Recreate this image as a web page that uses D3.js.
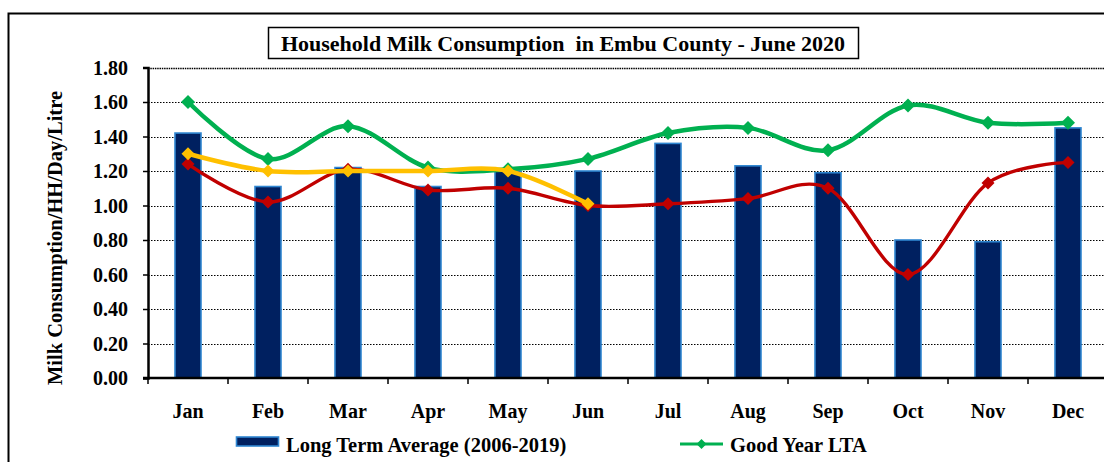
<!DOCTYPE html>
<html>
<head>
<meta charset="utf-8">
<script src="https://cdn.jsdelivr.net/npm/d3@7"></script>
<style>
  html, body { margin: 0; padding: 0; background: #fff; }
  svg { display: block; }
  text { font-family: "Liberation Serif", "Times New Roman", serif; font-weight: bold; fill: #000; }
</style>
</head>
<body>
<svg id="chart" width="1104" height="462"></svg>
<script>
// Monthly household milk consumption, Embu County (litres per household per day)
const months = ["Jan","Feb","Mar","Apr","May","Jun","Jul","Aug","Sep","Oct","Nov","Dec"];
const longTermAvg = [1.42, 1.11, 1.22, 1.11, 1.20, 1.20, 1.36, 1.23, 1.19, 0.80, 0.79, 1.45];
const goodYearLTA = [1.60, 1.27, 1.46, 1.22, 1.21, 1.27, 1.42, 1.45, 1.32, 1.58, 1.48, 1.48];
const badYearLTA  = [1.24, 1.02, 1.21, 1.09, 1.10, 1.00, 1.01, 1.04, 1.10, 0.60, 1.13, 1.25];
const year2020    = [1.30, 1.20, 1.20, 1.20, 1.20, 1.01];
const yTicks = [0, 0.2, 0.4, 0.6, 0.8, 1.0, 1.2, 1.4, 1.6, 1.8];
const titleText = "Household Milk Consumption  in Embu County - June 2020";
const yLabel = "Milk Consumption/HH/Day/Litre";
const legendLabels = ["Long Term Average (2006-2019)", "Good Year LTA"];

const svg = d3.select("#chart");
const plot = { left: 148, right: 1108, top: 67.5, bottom: 378 };

const x = d3.scaleBand().domain(months).range([plot.left, plot.right]).padding(0);
const y = d3.scaleLinear().domain([0, 1.8]).range([plot.bottom, plot.top]);

// Outer chart frame
svg.append("rect")
  .attr("x", 8.5).attr("y", 13.5).attr("width", 1110).attr("height", 470)
  .attr("fill", "#fff").attr("stroke", "#000").attr("stroke-width", 2);

// Title box
const titleG = svg.append("g");
titleG.append("rect")
  .attr("x", 268.5).attr("y", 27.5).attr("width", 590).attr("height", 31)
  .attr("fill", "#fff").attr("stroke", "#000").attr("stroke-width", 1.5);
titleG.append("text")
  .attr("x", 563).attr("y", 51)
  .attr("text-anchor", "middle")
  .attr("font-size", 22)
  .style("white-space", "pre")
  .text(titleText);

// Dotted horizontal gridlines
svg.append("g")
  .selectAll("line")
  .data(yTicks.filter(d => d > 0))
  .join("line")
  .attr("x1", plot.left).attr("x2", plot.right)
  .attr("y1", d => Math.round(y(d)) + 0.5).attr("y2", d => Math.round(y(d)) + 0.5)
  .attr("stroke", "#000")
  .attr("stroke-width", d => d === 1.8 ? 1.6 : 1.2)
  .attr("stroke-dasharray", d => d === 1.8 ? "1.5,0.8" : "1.5,1.5");

// Y axis
const yAxis = d3.axisLeft(y)
  .tickValues(yTicks)
  .tickFormat(d3.format(".2f"))
  .tickSize(5)
  .tickPadding(15);
const yG = svg.append("g")
  .attr("transform", `translate(${plot.left},0)`)
  .call(yAxis)
  .attr("font-family", null)
  .attr("font-size", null);
yG.select(".domain").attr("stroke", "#000").attr("stroke-width", 2.5);
yG.selectAll(".tick line").attr("stroke", "#000").attr("stroke-width", 1.5);
yG.selectAll(".tick text")
  .attr("font-size", 20)
  .attr("dy", "0.34em")
  .attr("fill", "#000");

// Y axis title
svg.append("text")
  .attr("transform", "translate(62,238) rotate(-90)")
  .attr("text-anchor", "middle")
  .attr("font-size", 20.5)
  .text(yLabel);

// Bars: long term average
svg.append("g")
  .selectAll("rect")
  .data(months.map((m, i) => ({ m, v: longTermAvg[i] })))
  .join("rect")
  .attr("x", d => x(d.m) + x.bandwidth() / 2 - 13)
  .attr("width", 26)
  .attr("y", d => y(d.v))
  .attr("height", d => y(0) - y(d.v))
  .attr("fill", "#002060")
  .attr("stroke", "#2f86d1")
  .attr("stroke-width", 1.6);

// X axis line with category boundary ticks
const xG = svg.append("g");
xG.append("line")
  .attr("x1", plot.left - 5).attr("x2", plot.right)
  .attr("y1", plot.bottom).attr("y2", plot.bottom)
  .attr("stroke", "#000").attr("stroke-width", 2.5);
xG.selectAll("line.tick")
  .data(months)
  .join("line")
  .attr("class", "tick")
  .attr("x1", d => x(d)).attr("x2", d => x(d))
  .attr("y1", plot.bottom).attr("y2", plot.bottom + 6)
  .attr("stroke", "#000").attr("stroke-width", 1.5);
xG.selectAll("text")
  .data(months)
  .join("text")
  .attr("x", d => x(d) + x.bandwidth() / 2)
  .attr("y", 418)
  .attr("text-anchor", "middle")
  .attr("font-size", 20)
  .text(d => d);

// Smoothed line series with diamond markers
const cx = d => x(d.m) + x.bandwidth() / 2;
const line = d3.line().x(cx).y(d => y(d.v)).curve(d3.curveCatmullRom.alpha(0));
const diamond = r => `M0,${-r}L${r},0L0,${r}L${-r},0Z`;

function drawSeries(values, color, width, r) {
  const data = values.map((v, i) => ({ m: months[i], v }));
  const g = svg.append("g");
  g.append("path")
    .datum(data)
    .attr("d", line)
    .attr("fill", "none")
    .attr("stroke", color)
    .attr("stroke-width", width)
    .attr("stroke-linejoin", "round");
  g.selectAll("path.mark")
    .data(data)
    .join("path")
    .attr("class", "mark")
    .attr("transform", d => `translate(${cx(d)},${y(d.v)})`)
    .attr("d", diamond(r))
    .attr("fill", color);
}

drawSeries(goodYearLTA, "#00b050", 4.5, 7);
drawSeries(badYearLTA, "#c00000", 3.4, 6.5);
drawSeries(year2020, "#ffc000", 4.5, 6.5);

// Legend
const lg = svg.append("g");
lg.append("rect")
  .attr("x", 236.5).attr("y", 437).attr("width", 42).attr("height", 9)
  .attr("fill", "#002060").attr("stroke", "#2f86d1").attr("stroke-width", 1.6);
lg.append("text")
  .attr("x", 286).attr("y", 452)
  .attr("font-size", 20.5)
  .text(legendLabels[0]);
lg.append("line")
  .attr("x1", 680).attr("x2", 723).attr("y1", 444).attr("y2", 444)
  .attr("stroke", "#00b050").attr("stroke-width", 3);
lg.append("path")
  .attr("transform", "translate(701.5,444)")
  .attr("d", diamond(5))
  .attr("fill", "#00b050");
lg.append("text")
  .attr("x", 730).attr("y", 452)
  .attr("font-size", 20.5)
  .text(legendLabels[1]);
</script>
</body>
</html>
